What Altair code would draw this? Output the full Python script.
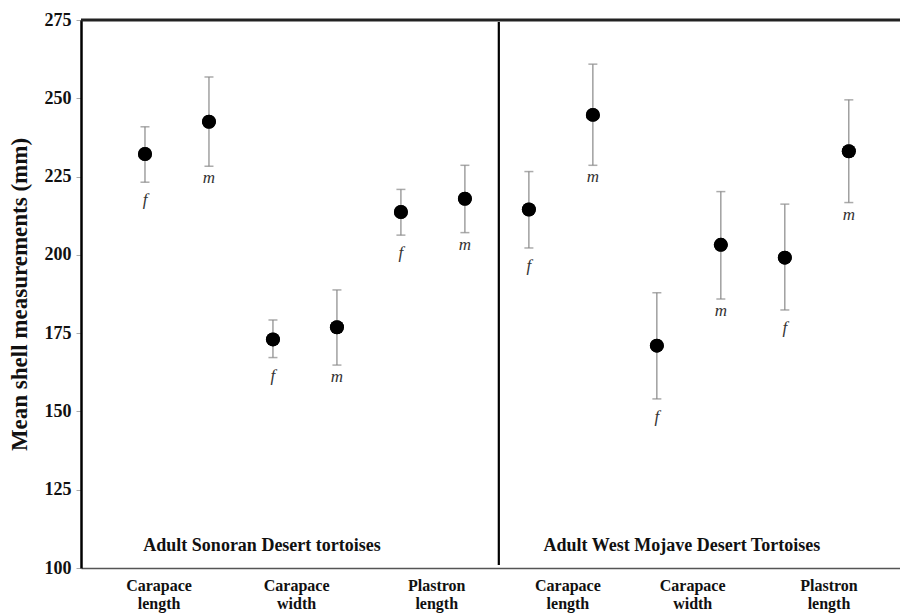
import altair as alt
import pandas as pd

# ---- data ----
slot = [1, 2, 3, 4, 5, 6, 7, 8, 9, 10, 11, 12]
sex = ["f", "m", "f", "m", "f", "m", "f", "m", "f", "m", "f", "m"]
mean = [232.2, 242.5, 173.0, 176.9, 213.7, 217.9, 214.5, 244.7, 171.0, 203.2, 199.1, 233.1]
lower = [223.2, 228.3, 167.2, 164.8, 206.3, 207.1, 202.2, 228.6, 154.0, 185.9, 182.4, 216.7]
upper = [240.9, 256.8, 179.2, 188.8, 220.9, 228.6, 226.6, 260.9, 187.9, 220.2, 216.2, 249.5]

cat_labels = ["Carapace\nlength", "Carapace\nwidth", "Plastron\nlength",
              "Carapace\nlength", "Carapace\nwidth", "Plastron\nlength"]
cat_pos = [1.22, 3.37, 5.56, 7.61, 9.56, 11.69]

group_labels = ["Adult Sonoran Desert tortoises", "Adult West Mojave Desert Tortoises"]
group_pos = [2.83, 9.39]
divider_pos = [6.53]
y_ticks = [100, 125, 150, 175, 200, 225, 250, 275]

df = pd.DataFrame({"slot": slot, "sex": sex, "mean": mean, "lower": lower, "upper": upper})
cats = pd.DataFrame({"pos": cat_pos, "label": cat_labels})
groups = pd.DataFrame({"pos": group_pos, "label": group_labels})
div = pd.DataFrame({"pos": divider_pos})

W, H = 819, 548
SERIF = "Liberation Serif"

xs = alt.Scale(domain=[0, 12.8], nice=False, zero=False)
ys = alt.Scale(domain=[100, 275], nice=False, zero=False)

base = alt.Chart(df)

x_enc = alt.X("slot:Q", scale=xs,
              axis=alt.Axis(labels=False, ticks=False, grid=False, title=None,
                            domainColor="#555555", domainWidth=1.5))
y_enc = alt.Y("mean:Q", scale=ys,
              axis=alt.Axis(values=y_ticks, grid=False, title="Mean shell measurements (mm)",
                            labelFont=SERIF, labelFontWeight="bold", labelFontSize=18,
                            labelColor="#111111", labelPadding=5,
                            tickColor="#aaaaaa", tickSize=5, tickWidth=1,
                            domainColor="#000000", domainWidth=2.5,
                            titleFont=SERIF, titleFontWeight="bold", titleFontSize=23,
                            titleColor="#111111", titlePadding=13))

bars = base.mark_rule(color="#888888", strokeWidth=1.2).encode(
    x=alt.X("slot:Q", scale=xs), y=alt.Y("lower:Q", scale=ys), y2="upper:Q")
cap_lo = base.mark_tick(color="#888888", orient="horizontal", size=9, thickness=1.5).encode(
    x=alt.X("slot:Q", scale=xs), y=alt.Y("lower:Q", scale=ys))
cap_hi = base.mark_tick(color="#888888", orient="horizontal", size=9, thickness=1.5).encode(
    x=alt.X("slot:Q", scale=xs), y=alt.Y("upper:Q", scale=ys))
pts = base.mark_circle(color="#000000", opacity=1, size=195).encode(x=x_enc, y=y_enc)

f_lab = base.transform_filter(alt.datum.sex == "f").mark_text(
    font=SERIF, fontStyle="italic", fontSize=17, color="#333333",
    baseline="middle", dy=18).encode(
    x=alt.X("slot:Q", scale=xs), y=alt.Y("lower:Q", scale=ys), text="sex:N")
m_lab = base.transform_filter(alt.datum.sex == "m").mark_text(
    font=SERIF, fontStyle="italic", fontSize=17, color="#333333",
    baseline="middle", dy=12).encode(
    x=alt.X("slot:Q", scale=xs), y=alt.Y("lower:Q", scale=ys), text="sex:N")

divider = alt.Chart(div).mark_rule(color="#000000", strokeWidth=2.2).encode(
    x=alt.X("pos:Q", scale=xs), y=alt.value(2), y2=alt.value(H - 3))

topline = alt.Chart(div).mark_rule(color="#222222", strokeWidth=3).encode(
    x=alt.value(0), x2=alt.value(W), y=alt.value(0))

catlab = alt.Chart(cats).mark_text(font=SERIF, fontWeight="bold", fontSize=16, color="#111111",
                                   baseline="top", lineBreak="\n", lineHeight=18).encode(
    x=alt.X("pos:Q", scale=xs), y=alt.value(H + 10), text="label:N")

grplab = alt.Chart(groups).mark_text(font=SERIF, fontWeight="bold", fontSize=18, color="#111111",
                                     baseline="middle").encode(
    x=alt.X("pos:Q", scale=xs), y=alt.value(H - 22), text="label:N")

chart = alt.layer(pts, bars, cap_lo, cap_hi, pts, f_lab, m_lab, divider, topline, catlab, grplab).properties(
    width=W, height=H,
    autosize=alt.AutoSizeParams(type="none"),
    padding={"left": 81, "top": 20, "right": 0, "bottom": 45},
    background="white",
).configure_view(stroke=None)

chart.save("out.html", embed_options={"renderer": "svg", "actions": False})
